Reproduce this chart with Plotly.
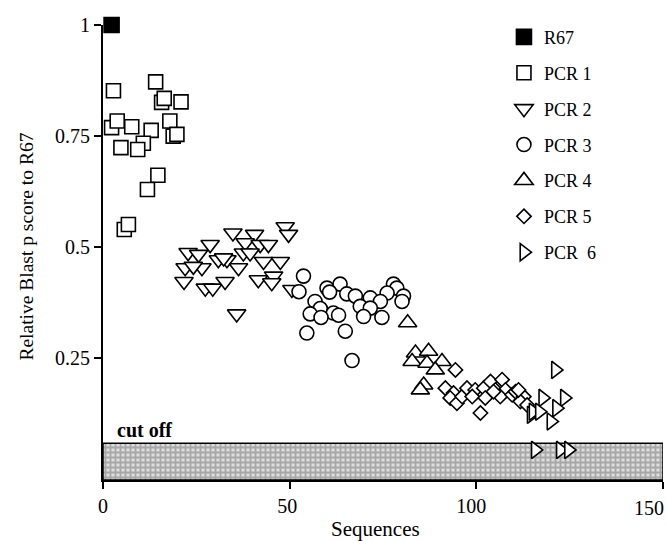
import plotly.graph_objects as go

# ---- data ----
r67_x = [2.3]
r67_y = [1.0]

pcr1_x = [2.8, 14.1, 15.7, 16.4, 20.9, 2.3, 3.8, 7.7, 12.9, 17.9, 18.8, 19.8, 10.8, 4.8, 9.3, 14.7, 11.9, 5.7, 6.8]
pcr1_y = [0.852, 0.872, 0.826, 0.835, 0.827, 0.769, 0.784, 0.771, 0.763, 0.784, 0.750, 0.754, 0.734, 0.724, 0.720, 0.662, 0.630, 0.540, 0.551]

pcr2_x = [34.8, 40.6, 48.8, 49.7, 28.7, 22.8, 25.6, 38.1, 42.1, 44.3, 37.6, 39.4, 30.9, 33.2, 32.3,
          43.0, 47.5, 22.0, 26.5, 36.3, 24.2, 45.7, 41.6, 21.7, 27.4, 29.4, 32.7, 45.2, 50.6, 35.8]
pcr2_y = [0.532, 0.529, 0.546, 0.529, 0.506, 0.488, 0.484, 0.510, 0.506, 0.506, 0.487, 0.487, 0.472, 0.472, 0.476,
          0.468, 0.468, 0.454, 0.454, 0.454, 0.457, 0.435, 0.427, 0.423, 0.408, 0.408, 0.423, 0.420, 0.405, 0.350]

pcr3_x = [53.7, 52.5, 60.0, 63.5, 60.7, 65.3, 67.6, 71.6, 77.8, 78.7, 76.1, 80.5, 80.1, 56.8, 74.3,
          68.9, 71.6, 58.2, 55.5, 61.7, 63.1, 58.4, 69.8, 74.7, 54.6, 64.9, 66.7]
pcr3_y = [0.435, 0.400, 0.408, 0.417, 0.399, 0.395, 0.390, 0.386, 0.417, 0.408, 0.397, 0.390, 0.378, 0.378, 0.378,
          0.367, 0.363, 0.362, 0.350, 0.352, 0.347, 0.342, 0.344, 0.342, 0.307, 0.311, 0.245]

pcr4_x = [81.6, 83.7, 87.2, 90.8, 82.8, 86.8, 89.0, 85.9, 85.0]
pcr4_y = [0.330, 0.262, 0.266, 0.243, 0.243, 0.239, 0.224, 0.190, 0.179]

pcr5_x = [94.4, 91.7, 93.9, 93.0, 94.8, 96.2, 97.5, 99.7, 98.9, 102.0, 103.8, 105.1, 102.4, 106.9, 107.8,
          106.4, 109.6, 110.5, 112.7, 111.8, 101.1, 113.6, 104.6, 111.3]
pcr5_y = [0.224, 0.183, 0.172, 0.161, 0.149, 0.164, 0.183, 0.179, 0.164, 0.183, 0.198, 0.179, 0.161, 0.202, 0.179,
          0.164, 0.168, 0.175, 0.164, 0.153, 0.127, 0.145, 0.175, 0.179]

pcr6_x = [121.2, 117.8, 123.6, 114.7, 115.2, 116.9, 121.5, 120.0, 115.8, 122.5, 124.7]
pcr6_y = [0.224, 0.161, 0.161, 0.123, 0.130, 0.130, 0.138, 0.108, 0.044, 0.044, 0.044]

cutoff_value = 0.059
x_range = [0, 150]
y_range = [-0.0237, 1.0]

NB = "\u00a0"
x_ticks = [0, 50, 100, 150]
x_ticktext = ["0", "50" + NB, "100" + NB * 2, ""]   # last label drawn separately, right-aligned to the edge
x_last_label = "150"
y_ticks = [0.25, 0.5, 0.75, 1.0]
y_ticktext = ["0.25", "0.5", "0.75", "1"]

series_names = ["R67", "PCR 1", "PCR 2", "PCR 3", "PCR 4", "PCR 5", "PCR" + NB + " 6"]
x_title = "Sequences"
y_title = "Relative Blast p score to R67"

FONT = "Liberation Serif"

fig = go.Figure()

# cut-off band
fig.add_trace(go.Scatter(
    x=[x_range[0], x_range[1], x_range[1], x_range[0], x_range[0]],
    y=[y_range[0], y_range[0], cutoff_value, cutoff_value, y_range[0]],
    mode="lines", fill="toself",
    fillcolor="#d0d0d0",
    fillpattern=dict(shape="+", size=5, solidity=0.6, fgcolor="#707070", bgcolor="#dedede"),
    line=dict(color="black", width=1.5),
    showlegend=False, hoverinfo="skip",
))

def add_series(xs, ys, name, symbol, size, fill="white"):
    fig.add_trace(go.Scatter(
        x=xs, y=ys, mode="markers", name=name, legendgroup=name,
        marker=dict(symbol=symbol, size=size, color=fill,
                    line=dict(color="black", width=1.6)),
        cliponaxis=False,
    ))

add_series(r67_x, r67_y, series_names[0], "square", 15, fill="black")
add_series(pcr1_x, pcr1_y, series_names[1], "square", 14)
add_series(pcr2_x, pcr2_y, series_names[2], "triangle-down", 16)
add_series(pcr3_x, pcr3_y, series_names[3], "circle", 14)
add_series(pcr4_x, pcr4_y, series_names[4], "triangle-up", 16)
add_series(pcr5_x, pcr5_y, series_names[5], "diamond", 11)
add_series(pcr6_x, pcr6_y, series_names[6], "triangle-right", 15)

fig.add_annotation(
    x=0, y=cutoff_value, xref="x", yref="y",
    text="<b>cut off</b>", showarrow=False,
    xanchor="left", yanchor="bottom", xshift=12, yshift=0,
    font=dict(family=FONT, size=20, color="black"),
)
fig.add_annotation(
    x=x_ticks[-1], y=0, xref="x", yref="paper",
    text=x_last_label, showarrow=False,
    xanchor="right", yanchor="top", xshift=3, yshift=-15,
    font=dict(family=FONT, size=20, color="black"),
)
fig.add_annotation(
    x=0.486, y=0, xref="paper", yref="paper",
    text=x_title, showarrow=False,
    xanchor="center", yanchor="top", yshift=-35,
    font=dict(family=FONT, size=21, color="black"),
)
fig.add_annotation(
    x=0, y=0.513, xref="paper", yref="paper",
    text=y_title, showarrow=False, textangle=-90,
    xanchor="center", yanchor="middle", xshift=-76,
    font=dict(family=FONT, size=19.5, color="black"),
)

fig.update_layout(
    width=667, height=541,
    margin=dict(l=103, r=4, t=25, b=61, autoexpand=False),
    paper_bgcolor="white", plot_bgcolor="white",
    font=dict(family=FONT, color="black"),
    showlegend=True,
    legend=dict(
        x=0.716, y=1.014, xanchor="left", yanchor="top",
        font=dict(family=FONT, size=18, color="black"),
        tracegroupgap=9.5, bgcolor="rgba(0,0,0,0)",
        itemsizing="trace",
    ),
    xaxis=dict(
        range=x_range, tickvals=x_ticks, ticktext=x_ticktext,
        showline=True, linecolor="black", linewidth=2,
        ticks="outside", ticklen=7, tickwidth=2, tickcolor="black",
        showgrid=False, zeroline=False, automargin=False,
        ticklabeloverflow="allow",
        tickfont=dict(family=FONT, size=20, color="black"),
    ),
    yaxis=dict(
        range=y_range, tickvals=y_ticks, ticktext=y_ticktext,
        showline=True, linecolor="black", linewidth=2,
        ticks="outside", ticklen=7, tickwidth=2, tickcolor="black",
        showgrid=False, zeroline=False, automargin=False,
        ticklabeloverflow="allow",
        tickfont=dict(family=FONT, size=20, color="black"),
    ),
)

# remove the default page margin so the figure fills the 667x541 window exactly
fig.write_html(
    "out.html",
    config={"displayModeBar": False},
    post_script="document.body.style.margin='0';document.body.style.overflow='hidden';",
)
